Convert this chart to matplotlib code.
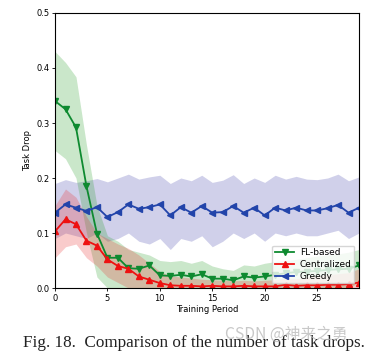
import matplotlib.pyplot as plt
import numpy as np

plt.rcParams['font.family'] = ['DejaVu Sans']

periods = list(range(30))

# FL-based (mean, band low, band high)
fl_mean = [0.340, 0.325, 0.292, 0.185, 0.099, 0.055, 0.055, 0.036, 0.035, 0.041,
           0.023, 0.022, 0.024, 0.021, 0.025, 0.017, 0.017, 0.014, 0.021, 0.019,
           0.021, 0.024, 0.027, 0.029, 0.030, 0.031, 0.033, 0.034, 0.035, 0.041]
fl_lo = [0.250, 0.235, 0.200, 0.100, 0.020, 0.000, 0.000, 0.000, 0.000, 0.000,
         0.000, 0.000, 0.000, 0.000, 0.000, 0.000, 0.000, 0.000, 0.000, 0.000,
         0.000, 0.000, 0.000, 0.000, 0.000, 0.000, 0.000, 0.000, 0.000, 0.010]
fl_hi = [0.430, 0.410, 0.384, 0.260, 0.150, 0.095, 0.085, 0.070, 0.065, 0.060,
         0.050, 0.048, 0.050, 0.045, 0.050, 0.040, 0.035, 0.032, 0.042, 0.040,
         0.045, 0.048, 0.050, 0.052, 0.055, 0.058, 0.060, 0.062, 0.065, 0.070]

# Centralized
cen_mean = [0.103, 0.125, 0.116, 0.086, 0.077, 0.052, 0.040, 0.035, 0.021, 0.015,
            0.009, 0.005, 0.004, 0.004, 0.003, 0.004, 0.003, 0.003, 0.004, 0.003,
            0.003, 0.003, 0.006, 0.004, 0.005, 0.005, 0.006, 0.006, 0.007, 0.010]
cen_lo = [0.055, 0.075, 0.080, 0.055, 0.040, 0.020, 0.010, 0.000, 0.000, 0.000,
          0.000, 0.000, 0.000, 0.000, 0.000, 0.000, 0.000, 0.000, 0.000, 0.000,
          0.000, 0.000, 0.000, 0.000, 0.000, 0.000, 0.000, 0.000, 0.000, 0.000]
cen_hi = [0.150, 0.180, 0.165, 0.130, 0.100, 0.090, 0.080, 0.072, 0.060, 0.045,
          0.030, 0.022, 0.020, 0.018, 0.016, 0.015, 0.014, 0.013, 0.014, 0.013,
          0.014, 0.015, 0.018, 0.017, 0.020, 0.022, 0.024, 0.026, 0.028, 0.035]

# Greedy
gr_mean = [0.137, 0.152, 0.146, 0.140, 0.147, 0.129, 0.138, 0.152, 0.144, 0.147,
           0.152, 0.132, 0.147, 0.137, 0.149, 0.137, 0.138, 0.149, 0.137, 0.146,
           0.132, 0.146, 0.141, 0.146, 0.141, 0.141, 0.145, 0.151, 0.137, 0.146]
gr_lo = [0.090, 0.100, 0.095, 0.090, 0.100, 0.085, 0.090, 0.100, 0.085, 0.080,
         0.090, 0.070, 0.090, 0.085, 0.095, 0.075, 0.085, 0.100, 0.090, 0.100,
         0.085, 0.100, 0.095, 0.100, 0.095, 0.095, 0.100, 0.105, 0.090, 0.100]
gr_hi = [0.190, 0.197, 0.192, 0.195, 0.199, 0.193, 0.200, 0.207, 0.198, 0.202,
         0.205, 0.190, 0.200, 0.195, 0.205, 0.192, 0.196, 0.206, 0.190, 0.200,
         0.192, 0.205, 0.198, 0.203, 0.198, 0.197, 0.200, 0.207, 0.195, 0.202]

fig = plt.figure(figsize=(3.73, 3.55), dpi=100)
ax = fig.add_axes([0.1475, 0.1887, 0.815, 0.7747])

ax.fill_between(periods, gr_lo, gr_hi, color='#4a4ab0', alpha=0.26, linewidth=0)
ax.fill_between(periods, fl_lo, fl_hi, color='#2ca02c', alpha=0.25, linewidth=0)
ax.fill_between(periods, cen_lo, cen_hi, color='#e83030', alpha=0.25, linewidth=0)

ax.plot(periods, fl_mean, color='#0e8a30', marker='v', markersize=4, linewidth=1.3, label='FL-based')
ax.plot(periods, cen_mean, color='#ee1111', marker='^', markersize=4, linewidth=1.3, label='Centralized')
ax.plot(periods, gr_mean, color='#2244aa', marker='<', markersize=4, linewidth=1.3, label='Greedy')

ax.set_xlim(0, 29)
ax.set_ylim(0, 0.5)
ax.set_xticks([0, 5, 10, 15, 20, 25])
ax.set_yticks([0.0, 0.1, 0.2, 0.3, 0.4, 0.5])
ax.tick_params(labelsize=6, length=2.5, width=0.6, pad=1.5)
for s in ax.spines.values():
    s.set_linewidth(0.8)
ax.set_xlabel('Training Period', fontsize=6, labelpad=2)
ax.set_ylabel('Task Drop', fontsize=6, labelpad=3)

ax.legend(loc='lower right', fontsize=6.5, framealpha=0.8, handlelength=2.2,
          borderpad=0.3, labelspacing=0.3, handletextpad=0.6)

fig.text(0.062, 0.022, 'Fig. 18.  Comparison of the number of task drops.',
         fontsize=12.3, family='Liberation Serif', color='#222222')
fig.text(0.603, 0.045, 'CSDN @神来之勇', fontsize=11.3,
         family=['Noto Sans CJK SC', 'DejaVu Sans'], color='#bbbbbb', alpha=0.8)

fig.savefig('out.png', dpi=100)
